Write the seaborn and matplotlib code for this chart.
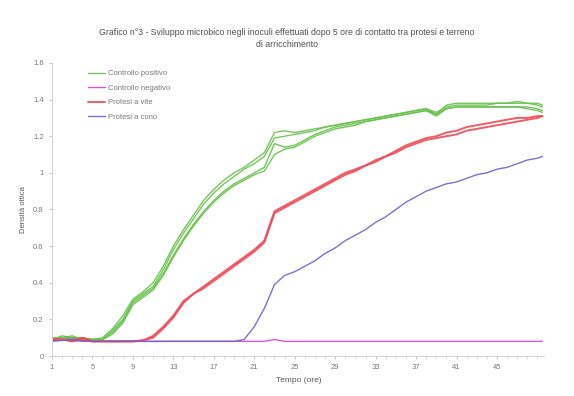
import matplotlib
matplotlib.use("Agg")
import matplotlib.pyplot as plt
import seaborn as sns
import pandas as pd
import numpy as np

# ---------------- data ----------------
time = list(range(1, 50)) + [49.5]

green_a = [0.09, 0.11, 0.10, 0.10, 0.09, 0.10, 0.15, 0.22, 0.31, 0.35,
           0.40, 0.49, 0.60, 0.69, 0.77, 0.85, 0.91, 0.96, 1.00, 1.03,
           1.07, 1.11, 1.22, 1.23, 1.22, 1.23, 1.24, 1.25, 1.26, 1.27,
           1.28, 1.29, 1.30, 1.31, 1.32, 1.33, 1.34, 1.35, 1.32, 1.37,
           1.38, 1.38, 1.38, 1.38, 1.38, 1.38, 1.39, 1.38, 1.38, 1.37]
green_b = [0.10, 0.10, 0.11, 0.09, 0.09, 0.09, 0.14, 0.20, 0.30, 0.34,
           0.38, 0.47, 0.58, 0.67, 0.75, 0.83, 0.89, 0.94, 0.98, 1.02,
           1.05, 1.09, 1.19, 1.20, 1.21, 1.22, 1.23, 1.25, 1.26, 1.27,
           1.28, 1.29, 1.30, 1.31, 1.32, 1.33, 1.34, 1.35, 1.33, 1.36,
           1.37, 1.37, 1.37, 1.37, 1.38, 1.38, 1.38, 1.38, 1.37, 1.36]
green_c = [0.09, 0.10, 0.10, 0.10, 0.09, 0.09, 0.13, 0.19, 0.29, 0.33,
           0.37, 0.45, 0.55, 0.64, 0.72, 0.79, 0.85, 0.90, 0.94, 0.97,
           1.00, 1.03, 1.16, 1.14, 1.15, 1.18, 1.21, 1.23, 1.25, 1.26,
           1.27, 1.28, 1.29, 1.30, 1.31, 1.32, 1.33, 1.34, 1.31, 1.35,
           1.36, 1.36, 1.36, 1.36, 1.36, 1.36, 1.36, 1.36, 1.35, 1.34]
green_d = [0.09, 0.09, 0.10, 0.09, 0.09, 0.09, 0.12, 0.18, 0.28, 0.32,
           0.36, 0.44, 0.54, 0.63, 0.71, 0.78, 0.84, 0.89, 0.93, 0.96,
           0.99, 1.01, 1.10, 1.13, 1.14, 1.17, 1.20, 1.22, 1.24, 1.25,
           1.26, 1.28, 1.29, 1.30, 1.31, 1.32, 1.33, 1.34, 1.32, 1.35,
           1.36, 1.36, 1.36, 1.36, 1.36, 1.36, 1.36, 1.35, 1.34, 1.33]

magenta = [0.085, 0.09, 0.08, 0.085, 0.08, 0.08, 0.08, 0.08, 0.08, 0.08,
           0.08, 0.08, 0.08, 0.08, 0.08, 0.08, 0.08, 0.08, 0.08, 0.08,
           0.08, 0.08, 0.09, 0.08, 0.08, 0.08, 0.08, 0.08, 0.08, 0.08,
           0.08, 0.08, 0.08, 0.08, 0.08, 0.08, 0.08, 0.08, 0.08, 0.08,
           0.08, 0.08, 0.08, 0.08, 0.08, 0.08, 0.08, 0.08, 0.08, 0.08]

red_a = [0.09, 0.09, 0.08, 0.10, 0.08, 0.08, 0.08, 0.08, 0.08, 0.085,
         0.11, 0.16, 0.22, 0.30, 0.34, 0.38, 0.42, 0.46, 0.50, 0.54,
         0.58, 0.63, 0.79, 0.82, 0.85, 0.88, 0.91, 0.94, 0.97, 1.00,
         1.02, 1.04, 1.07, 1.09, 1.12, 1.15, 1.17, 1.19, 1.20, 1.22,
         1.23, 1.25, 1.26, 1.27, 1.28, 1.29, 1.30, 1.30, 1.31, 1.31]
red_b = [0.09, 0.09, 0.09, 0.09, 0.08, 0.08, 0.08, 0.08, 0.08, 0.085,
         0.10, 0.15, 0.21, 0.29, 0.34, 0.37, 0.41, 0.45, 0.49, 0.53,
         0.57, 0.62, 0.78, 0.81, 0.84, 0.87, 0.90, 0.93, 0.96, 0.99,
         1.01, 1.04, 1.06, 1.09, 1.11, 1.14, 1.16, 1.18, 1.19, 1.20,
         1.21, 1.23, 1.24, 1.25, 1.26, 1.27, 1.28, 1.29, 1.30, 1.31]

blue = [0.08, 0.085, 0.09, 0.08, 0.08, 0.08, 0.08, 0.08, 0.08, 0.08,
        0.08, 0.08, 0.08, 0.08, 0.08, 0.08, 0.08, 0.08, 0.08, 0.09,
        0.16, 0.26, 0.39, 0.44, 0.46, 0.49, 0.52, 0.56, 0.59, 0.63,
        0.66, 0.69, 0.73, 0.76, 0.80, 0.84, 0.87, 0.90, 0.92, 0.94,
        0.95, 0.97, 0.99, 1.00, 1.02, 1.03, 1.05, 1.07, 1.08, 1.09]

series_names = ["Controllo positivo", "Controllo negativo",
                "Protesi a vite", "Protesi a cono"]
series_data = {
    "Controllo positivo": [green_a, green_b, green_c, green_d],
    "Controllo negativo": [magenta],
    "Protesi a vite": [red_a, red_b],
    "Protesi a cono": [blue],
}
colors = {
    "Controllo positivo": "#66c04a",
    "Controllo negativo": "#d444d0",
    "Protesi a vite": "#ee4b57",
    "Protesi a cono": "#6a62cf",
}
widths = {
    "Controllo positivo": 1.0,
    "Controllo negativo": 1.0,
    "Protesi a vite": 1.4,
    "Protesi a cono": 1.0,
}

x_ticks = [1, 5, 9, 13, 17, 21, 25, 29, 33, 37, 41, 45]
y_ticks = [0, 0.2, 0.4, 0.6, 0.8, 1.0, 1.2, 1.4, 1.6]
y_tick_labels = ["0", "0.2", "0.4", "0.6", "0.8", "1", "1.2", "1.4", "1.6"]

title = ("Grafico n°3 - Sviluppo microbico negli inoculi effettuati dopo 5 ore di "
         "contatto tra protesi e terreno\ndi arricchimento")

# ---------------- build long table ----------------
rows = []
for name in series_names:
    for r, vals in enumerate(series_data[name]):
        for t, v in zip(time, vals):
            rows.append({"Tempo": t, "OD": v, "serie": name, "rep": r})
df = pd.DataFrame(rows)

sns.set_theme(style="white")
plt.rcParams["font.family"] = ["Liberation Sans", "DejaVu Sans"]

fig = plt.figure(figsize=(5.74, 3.96), dpi=100)
fig.patch.set_facecolor("white")
ax = fig.add_axes([0.0906, 0.101, 0.858, 0.740])

for name in series_names:
    sub = df[df["serie"] == name]
    for r in sorted(sub["rep"].unique()):
        s = sub[sub["rep"] == r]
        sns.lineplot(data=s, x="Tempo", y="OD", ax=ax, color=colors[name],
                     linewidth=widths[name], alpha=0.9,
                     label=name if r == 0 else None, estimator=None)

ax.set_xlim(1, 49.7)
ax.set_ylim(0, 1.6)
ax.set_xticks(x_ticks)
ax.set_xticks(np.arange(1, 50), minor=True)
ax.set_yticks(y_ticks)
ax.set_yticklabels(y_tick_labels)
ax.tick_params(axis="both", which="major", labelsize=5.5, colors="#bdbdbd",
               labelcolor="#777777", length=2.5, width=0.6, direction="out",
               bottom=True, left=True)
ax.tick_params(axis="x", which="minor", length=2, width=0.5, colors="#cfcfcf",
               bottom=True)

for side in ["top", "right"]:
    ax.spines[side].set_visible(False)
for side in ["left", "bottom"]:
    ax.spines[side].set_color("#d0d0d0")
    ax.spines[side].set_linewidth(0.7)

ax.set_xlabel("Tempo (ore)", fontsize=6, color="#555555", labelpad=4)
ax.set_ylabel("Densità ottica", fontsize=5.5, color="#555555", labelpad=4)

fig.text(0.5, 0.902, title, ha="center", va="center", fontsize=6.3,
         color="#505050", linespacing=1.4)

leg = ax.legend(loc="upper left", bbox_to_anchor=(0.06, 1.0), frameon=False,
                fontsize=5.5, labelspacing=0.95, handlelength=2.2,
                handletextpad=0.4)
for txt in leg.get_texts():
    txt.set_color("#777777")

fig.savefig("out.png", dpi=100, facecolor="white")
